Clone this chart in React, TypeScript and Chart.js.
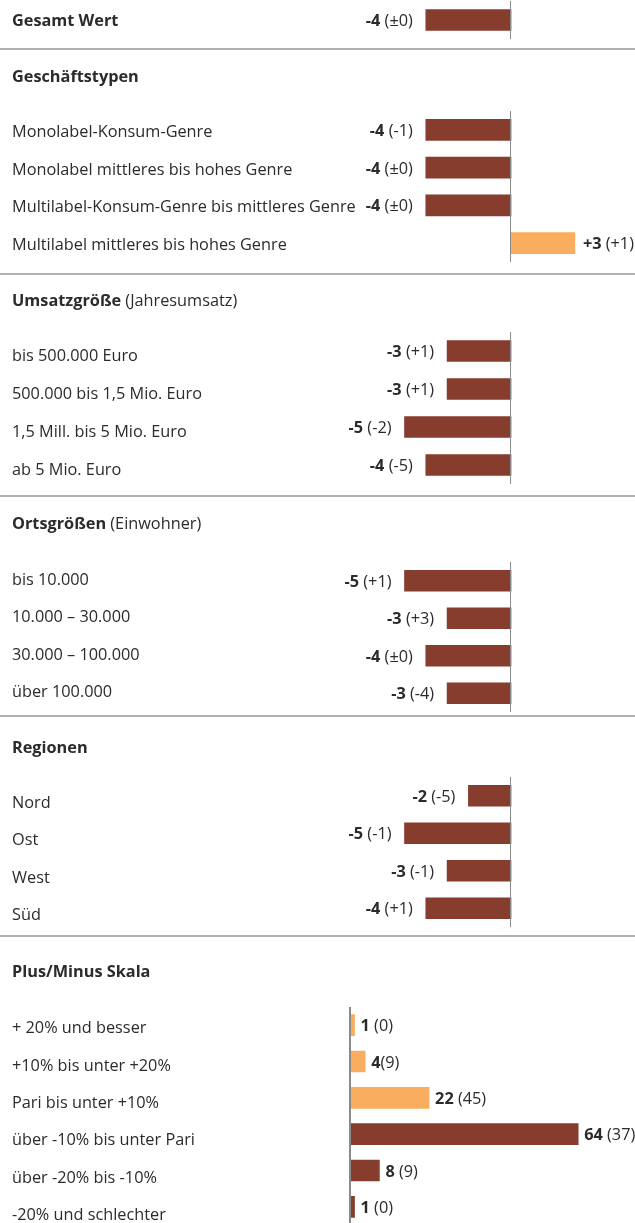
import React, { useEffect, useRef } from "react";
import { Chart, registerables } from "chart.js";

Chart.register(...registerables);

const FONT = "'Open Sans', 'Noto Sans', sans-serif";
const FS = 16.3;
const DARK = "#873d2d";
const LIGHT = "#f9ae5f";
const TEXT = "#2b2b2b";
const AXIS = "#8a8a8a";
const RULE = "#b0b0b0";

// ---- data ----
const gesamtLabels = ["Gesamt Wert"];
const gesamtValues = [-4];
const gesamtPrev = [" (±0)"];

const geschaeftLabels = [
  "Monolabel-Konsum-Genre",
  "Monolabel mittleres bis hohes Genre",
  "Multilabel-Konsum-Genre bis mittleres Genre",
  "Multilabel mittleres bis hohes Genre",
];
const geschaeftValues = [-4, -4, -4, 3];
const geschaeftPrev = [" (-1)", " (±0)", " (±0)", " (+1)"];

const umsatzLabels = [
  "bis 500.000 Euro",
  "500.000 bis 1,5 Mio. Euro",
  "1,5 Mill. bis 5 Mio. Euro",
  "ab 5 Mio. Euro",
];
const umsatzValues = [-3, -3, -5, -4];
const umsatzPrev = [" (+1)", " (+1)", " (-2)", " (-5)"];

const ortLabels = ["bis 10.000", "10.000 – 30.000", "30.000 – 100.000", "über 100.000"];
const ortValues = [-5, -3, -4, -3];
const ortPrev = [" (+1)", " (+3)", " (±0)", " (-4)"];

const regionLabels = ["Nord", "Ost", "West", "Süd"];
const regionValues = [-2, -5, -3, -4];
const regionPrev = [" (-5)", " (-1)", " (-1)", " (+1)"];

const skalaLabels = [
  "+ 20% und besser",
  "+10% bis unter +20%",
  "Pari bis unter +10%",
  "über -10% bis unter Pari",
  "über -20% bis -10%",
  "-20% und schlechter",
];
const skalaValues = [1, 4, 22, 64, 8, 1];
const skalaPrev = [" (0)", "(9)", " (45)", " (37)", " (9)", " (0)"];
const skalaPositiveSide = [true, true, true, false, false, false];

type Section = {
  top: number;
  height: number;
  plotTop: number;
  plotBottom: number;
  header?: [string, string];
  headerY?: number;
  labels: string[];
  values: number[];
  prev: string[];
  light: boolean[];
  boldLabel?: boolean;
  xMin: number;
  xMax: number;
  zeroX: number;
  unitPx: number;
  signed: boolean;
  labelOffset: number;
  labelStep: number;
  ruleY?: number;
  axisWidth: number;
  posGap: number;
};

const W = 635;

const sections: Section[] = [
  {
    top: 0, height: 52, plotTop: 1, plotBottom: 39,
    labels: gesamtLabels, values: gesamtValues, prev: gesamtPrev,
    light: gesamtValues.map((v) => v > 0), boldLabel: true,
    xMin: -20, xMax: 5, zeroX: 511, unitPx: 21.3, signed: true,
    labelOffset: 5.5, labelStep: 0, ruleY: 49, axisWidth: 1, posGap: 8,
  },
  {
    top: 52, height: 224, plotTop: 111, plotBottom: 262,
    header: ["Geschäftstypen", ""], headerY: 82,
    labels: geschaeftLabels, values: geschaeftValues, prev: geschaeftPrev,
    light: geschaeftValues.map((v) => v > 0),
    xMin: -20, xMax: 5, zeroX: 511, unitPx: 21.3, signed: true,
    labelOffset: 7, labelStep: 0, ruleY: 274, axisWidth: 1, posGap: 8,
  },
  {
    top: 276, height: 222, plotTop: 332, plotBottom: 484,
    header: ["Umsatzgröße", " (Jahresumsatz)"], headerY: 306,
    labels: umsatzLabels, values: umsatzValues, prev: umsatzPrev,
    light: umsatzValues.map((v) => v > 0),
    xMin: -20, xMax: 5, zeroX: 511, unitPx: 21.3, signed: true,
    labelOffset: 10, labelStep: 0, ruleY: 496, axisWidth: 1, posGap: 8,
  },
  {
    top: 498, height: 220, plotTop: 562, plotBottom: 712,
    header: ["Ortsgrößen", " (Einwohner)"], headerY: 529,
    labels: ortLabels, values: ortValues, prev: ortPrev,
    light: ortValues.map((v) => v > 0),
    xMin: -20, xMax: 5, zeroX: 511, unitPx: 21.3, signed: true,
    labelOffset: 4, labelStep: 0, ruleY: 716, axisWidth: 1, posGap: 8,
  },
  {
    top: 718, height: 220, plotTop: 777, plotBottom: 927,
    header: ["Regionen", ""], headerY: 753,
    labels: regionLabels, values: regionValues, prev: regionPrev,
    light: regionValues.map((v) => v > 0),
    xMin: -20, xMax: 5, zeroX: 511, unitPx: 21.3, signed: true,
    labelOffset: 12, labelStep: 0, ruleY: 936, axisWidth: 1, posGap: 8,
  },
  {
    top: 938, height: 292, plotTop: 1007, plotBottom: 1225,
    header: ["Plus/Minus Skala", ""], headerY: 977,
    labels: skalaLabels, values: skalaValues, prev: skalaPrev,
    light: skalaPositiveSide,
    xMin: 0, xMax: 70, zeroX: 351, unitPx: 3.55, signed: false,
    labelOffset: 8, labelStep: 1.1, axisWidth: 2, posGap: 6,
  },
];

function SectionChart({ s }: { s: Section }) {
  const ref = useRef<HTMLCanvasElement | null>(null);
  useEffect(() => {
    const canvas = ref.current;
    if (!canvas) return;
    const left = s.zeroX + s.xMin * s.unitPx;
    const right = s.zeroX + s.xMax * s.unitPx;
    const padTop = s.plotTop - s.top;
    const padBottom = s.top + s.height - s.plotBottom;

    const overlay = {
      id: "overlay" + s.top,
      afterDatasetsDraw(chart: any) {
        const ctx = chart.ctx as CanvasRenderingContext2D;
        const area = chart.chartArea;
        const xs = chart.scales.x;
        const ys = chart.scales.y;
        ctx.save();
        // zero axis line
        const x0 = Math.round(xs.getPixelForValue(0));
        ctx.strokeStyle = AXIS;
        ctx.lineWidth = s.axisWidth;
        ctx.beginPath();
        ctx.moveTo(x0 - s.axisWidth / 2, area.top);
        ctx.lineTo(x0 - s.axisWidth / 2, area.bottom);
        ctx.stroke();

        // header
        ctx.fillStyle = TEXT;
        ctx.textBaseline = "alphabetic";
        ctx.textAlign = "left";
        if (s.header && s.headerY !== undefined) {
          const hy = s.headerY - s.top;
          ctx.font = `bold ${FS}px ${FONT}`;
          ctx.fillText(s.header[0], 12, hy);
          const bw = ctx.measureText(s.header[0]).width;
          if (s.header[1]) {
            ctx.font = `${FS}px ${FONT}`;
            ctx.fillText(s.header[1], 12 + bw, hy);
          }
        }

        // row labels
        s.labels.forEach((lab, i) => {
          const y = ys.getPixelForValue(i) + s.labelOffset + i * s.labelStep;
          ctx.font = `${s.boldLabel ? "bold " : ""}${FS}px ${FONT}`;
          ctx.textAlign = "left";
          ctx.fillText(lab, 12, y);
        });

        // value labels
        const meta = chart.getDatasetMeta(0);
        s.values.forEach((v, i) => {
          const bar: any = meta.data[i];
          const y = bar.y + 6;
          const main = s.signed && v > 0 ? "+" + v : String(v);
          const sub = s.prev[i];
          ctx.font = `bold ${FS}px ${FONT}`;
          const mw = ctx.measureText(main).width;
          ctx.font = `${FS}px ${FONT}`;
          const sw = ctx.measureText(sub).width;
          let startX: number;
          if (v < 0) {
            startX = Math.min(bar.x, bar.base) - 13 - (mw + sw);
          } else {
            startX = Math.max(bar.x, bar.base) + s.posGap;
          }
          ctx.textAlign = "left";
          ctx.font = `bold ${FS}px ${FONT}`;
          ctx.fillText(main, startX, y);
          ctx.font = `${FS}px ${FONT}`;
          ctx.fillText(sub, startX + mw, y);
        });

        // separator rule
        if (s.ruleY !== undefined) {
          ctx.strokeStyle = RULE;
          ctx.lineWidth = 2;
          ctx.beginPath();
          ctx.moveTo(0, s.ruleY - s.top);
          ctx.lineTo(W, s.ruleY - s.top);
          ctx.stroke();
        }
        ctx.restore();
      },
    };

    const chart = new Chart(canvas, {
      type: "bar",
      data: {
        labels: s.labels,
        datasets: [
          {
            data: s.values,
            backgroundColor: s.light.map((l) => (l ? LIGHT : DARK)),
            borderWidth: 0,
            barThickness: 21,
          },
        ],
      },
      options: {
        indexAxis: "y",
        responsive: false,
        animation: false,
        events: [],
        layout: {
          padding: { left, right: W - right, top: padTop, bottom: padBottom },
        },
        plugins: {
          legend: { display: false },
          tooltip: { enabled: false },
          title: { display: false },
        },
        scales: {
          x: { type: "linear", min: s.xMin, max: s.xMax, display: false, grid: { display: false } },
          y: { type: "category", display: false, offset: true, grid: { display: false } },
        },
      },
      plugins: [overlay],
    } as any);
    return () => chart.destroy();
  }, [s]);
  return (
    <canvas
      ref={ref}
      width={W}
      height={s.height}
      style={{ position: "absolute", left: 0, top: s.top, width: W, height: s.height }}
    />
  );
}

export default function App() {
  return (
    <div
      style={{
        position: "absolute",
        left: 0,
        top: 0,
        width: W,
        height: 1223,
        overflow: "hidden",
        background: "#ffffff",
      }}
    >
      {sections.map((s) => (
        <SectionChart key={s.top} s={s} />
      ))}
    </div>
  );
}
